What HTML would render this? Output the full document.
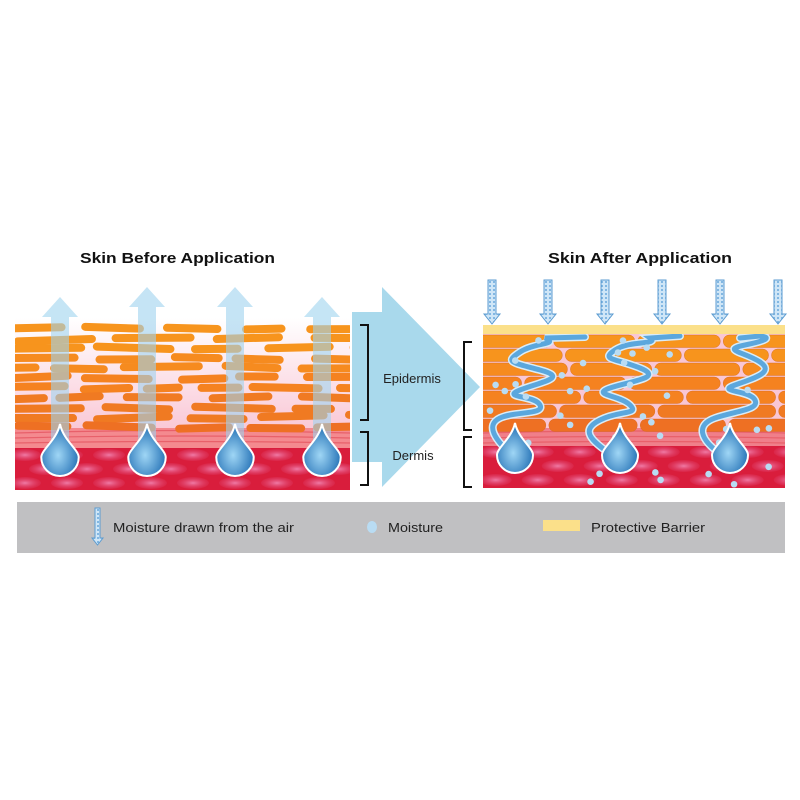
<!DOCTYPE html>
<html><head><meta charset="utf-8"><style>
html,body{margin:0;padding:0;background:#fff;}
svg{display:block;}
text{font-family:"Liberation Sans",sans-serif;}
</style></head><body>
<svg id="s" width="800" height="800" viewBox="0 0 800 800" xmlns="http://www.w3.org/2000/svg">
<defs>
<linearGradient id="lbg" x1="0" y1="0" x2="0" y2="1">
<stop offset="0" stop-color="#ffffff"/><stop offset="0.5" stop-color="#fbd5e0"/><stop offset="1" stop-color="#f5a9bd"/>
</linearGradient>
<radialGradient id="drop" cx="0.45" cy="0.6" r="0.6">
<stop offset="0" stop-color="#9fd6f5"/><stop offset="1" stop-color="#1f6db3"/>
</radialGradient>
<radialGradient id="cellr" cx="0.5" cy="0.5" r="0.5">
<stop offset="0" stop-color="#f07aa5"/><stop offset="1" stop-color="#e04a78" stop-opacity="0.2"/>
</radialGradient>
<pattern id="dots" width="4" height="4" patternUnits="userSpaceOnUse">
<rect width="4" height="4" fill="#cfe6f7"/><circle cx="2" cy="2" r="1" fill="#6aa8dc"/>
</pattern>
<clipPath id="lc"><rect x="15" y="318" width="335" height="172"/></clipPath>
<clipPath id="rc"><rect x="483" y="333" width="302" height="155"/></clipPath>
</defs>

<text x="80" y="263" font-size="15" font-weight="bold" fill="#111" textLength="195" lengthAdjust="spacingAndGlyphs">Skin Before Application</text>
<text x="548" y="263" font-size="15" font-weight="bold" fill="#111" textLength="184" lengthAdjust="spacingAndGlyphs">Skin After Application</text>

<polygon points="352,312 382,312 382,287 480,387 382,487 382,462 352,462" fill="#a9d9ec"/>

<g clip-path="url(#lc)">
<rect x="15" y="318" width="335" height="172" fill="url(#lbg)"/>
<rect x="15" y="428" width="335" height="22" fill="#f48a8f"/>
<g stroke="#e8606a" stroke-width="1.2" fill="none">
<path d="M15 433 Q180 428 350 433"/><path d="M15 438 Q180 434 350 438"/><path d="M15 443 Q180 440 350 443"/>
</g>
<rect x="15" y="448" width="335" height="42" fill="#d91d3c"/>
<g id="lderm"></g>
<g id="lcells"></g>
</g>
<g id="larrows" opacity="0.6"></g>
<g id="ldrops"></g>

<g stroke="#111" stroke-width="2" fill="none">
<path d="M360 325 H368 V420 H360"/>
<path d="M360 432 H368 V485 H360"/>
<path d="M472 342 H464 V430 H472"/>
<path d="M472 437 H464 V487 H472"/>
</g>
<text x="412" y="383" font-size="13" text-anchor="middle" fill="#222">Epidermis</text>
<text x="413" y="460" font-size="13" text-anchor="middle" fill="#222">Dermis</text>

<g clip-path="url(#rc)">
<rect x="483" y="333" width="302" height="155" fill="#f9c6d4"/>
<rect x="483" y="428" width="302" height="20" fill="#f07f8a"/>
<g stroke="#e8606a" stroke-width="1.2" fill="none">
<path d="M483 433 Q630 429 785 433"/><path d="M483 438 Q630 435 785 438"/><path d="M483 443 Q630 440 785 443"/>
</g>
<rect x="483" y="446" width="302" height="42" fill="#d91d3c"/>
<g id="rderm"></g>
<g id="rcells"></g>
<g id="waves" fill="none" stroke-linecap="round"></g>
<g id="rdots" fill="#b9dcf3"></g>
</g>
<rect x="483" y="325" width="302" height="9" fill="#fbe08a"/>
<g id="rdrops"></g>
<g id="darrows"></g>

<rect x="17" y="502" width="768" height="51" fill="#c0c0c2"/>
<g id="legarrow"></g>
<text x="113" y="532" font-size="13" fill="#222" textLength="181" lengthAdjust="spacingAndGlyphs">Moisture drawn from the air</text>
<ellipse cx="372" cy="527" rx="5" ry="6" fill="#b9dcf3"/>
<text x="388" y="532" font-size="13" fill="#222" textLength="55" lengthAdjust="spacingAndGlyphs">Moisture</text>
<rect x="543" y="520" width="37" height="11" fill="#fbe08a"/>
<text x="591" y="532" font-size="13" fill="#222" textLength="114" lengthAdjust="spacingAndGlyphs">Protective Barrier</text>
</svg>
<script>
var NS="http://www.w3.org/2000/svg";
function el(p,t,a){var e=document.createElementNS(NS,t);for(var k in a)e.setAttribute(k,a[k]);document.getElementById(p).appendChild(e);return e;}
var seed=7;function r(){seed=(seed*9301+49297)%233280;return seed/233280;}
for(var y=455;y<495;y+=14)for(var x=15+((y/14)%2)*20;x<360;x+=42){el('lderm','ellipse',{cx:x,cy:y,rx:16,ry:6,fill:'url(#cellr)'});}
for(var y=452;y<495;y+=14)for(var x=490+((y/14)%2)*20;x<795;x+=42){el('rderm','ellipse',{cx:x,cy:y,rx:16,ry:6,fill:'url(#cellr)'});}
var cols=['#f7941d','#f68b1f','#f58220','#f07a22','#ee7023'];
for(var i=0;i<11;i++){var y=325+i*9.8;var x=15-r()*30;
 while(x<350){var L=40+r()*45;var c=cols[Math.min(4,Math.floor(i/2.3))];
  el('lcells','rect',{x:x,y:y+(r()-0.5)*3,width:L,height:8,rx:4,fill:c,transform:'rotate('+((r()-0.5)*5)+' '+(x+L/2)+' '+y+')'});
  x+=L+6+r()*22;}}
for(var i=0;i<7;i++){var y=335+i*14;var x=483-r()*50;
 while(x<785){var L=80+r()*40;var c=cols[Math.min(4,Math.floor(i/1.5))];
  el('rcells','rect',{x:x,y:y,width:L,height:12.5,rx:6,fill:c,stroke:'#d0681a','stroke-width':0.4});
  x+=L+3;}}
[[60,297],[147,287],[235,287],[322,297]].forEach(function(a){
 el('larrows','polygon',{points:(a[0]-9)+',470 '+(a[0]-9)+','+(a[1]+20)+' '+(a[0]-18)+','+(a[1]+20)+' '+a[0]+','+a[1]+' '+(a[0]+18)+','+(a[1]+20)+' '+(a[0]+9)+','+(a[1]+20)+' '+(a[0]+9)+',470',fill:'#9fd3ef'});});
function drop(g,cx,ty,h){var w=h*0.36;var by=ty+h;
 el(g,'path',{d:'M'+cx+' '+ty+' C'+(cx+3)+' '+(ty+h*0.3)+' '+(cx+w)+' '+(by-w*1.4)+' '+(cx+w)+' '+(by-w)+' A'+w+' '+w+' 0 0 1 '+(cx-w)+' '+(by-w)+' C'+(cx-w)+' '+(by-w*1.4)+' '+(cx-3)+' '+(ty+h*0.3)+' '+cx+' '+ty+'Z',fill:'url(#drop)',stroke:'#fff','stroke-width':2});}
[60,147,235,322].forEach(function(x){drop('ldrops',x,424,52);});
[515,620,730].forEach(function(x){drop('rdrops',x,423,50);});
var W=[
'M512 455 C495 440 485 425 500 418 S545 415 540 405 S500 398 520 390 S570 378 540 370 S505 362 520 352 S560 345 545 338 L585 337',
'M612 455 C590 440 580 430 600 420 S640 415 630 405 S590 395 610 388 S665 378 640 368 S600 360 615 350 S660 345 650 338 L680 336',
'M722 455 C700 440 695 425 715 418 S760 410 755 400 S715 392 735 385 S775 372 760 362 S720 350 745 345 S770 337 760 336 L740 338'];
W.forEach(function(d){el('waves','path',{d:d,stroke:'#d9ecf8','stroke-width':8});el('waves','path',{d:d,stroke:'#5ba7dd','stroke-width':5});});
for(var i=0;i<42;i++){el('rdots','circle',{cx:490+r()*290,cy:340+r()*145,r:3.3});}
[492,548,605,662,720,778].forEach(function(x){
 el('darrows','polygon',{points:(x-4)+',280 '+(x+4)+',280 '+(x+4)+',314 '+(x+8)+',314 '+x+',324 '+(x-8)+',314 '+(x-4)+',314',fill:'url(#dots)',stroke:'#5b9bd0','stroke-width':1});});
el('legarrow','polygon',{points:'95,508 100,508 100,538 103,538 97.5,545 92,538 95,538',fill:'url(#dots)',stroke:'#5b9bd0','stroke-width':1});
</script>
</body></html>
